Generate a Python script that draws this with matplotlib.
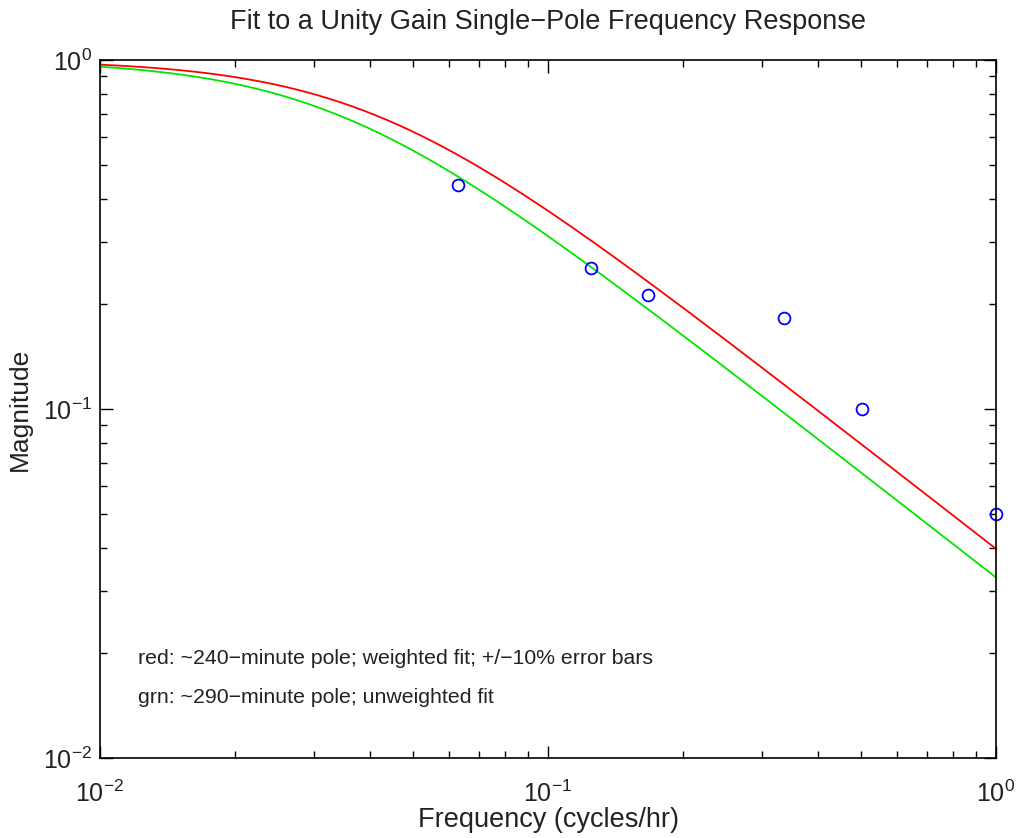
import numpy as np
import matplotlib
matplotlib.use("Agg")
import matplotlib.pyplot as plt
from matplotlib.ticker import LogLocator, NullFormatter

plt.rcParams['font.family'] = ['Liberation Sans', 'DejaVu Sans']
plt.rcParams['mathtext.fontset'] = 'custom'
plt.rcParams['mathtext.rm'] = 'Liberation Sans'
plt.rcParams['mathtext.it'] = 'Liberation Sans'

# Measured data (cycles/hr, magnitude)
freq_pts = [0.063, 0.125, 0.167, 0.336, 0.502, 1.0]
mag_pts = [0.438, 0.253, 0.212, 0.182, 0.100, 0.050]

# Single-pole fit time constants (minutes)
pole_red_min = 240
pole_grn_min = 290

title = "Fit to a Unity Gain Single\u2212Pole Frequency Response"
xlabel = "Frequency (cycles/hr)"
ylabel = "Magnitude"
note_red = "red: ~240\u2212minute pole; weighted fit; +/\u221210% error bars"
note_grn = "grn: ~290\u2212minute pole; unweighted fit"

f = np.logspace(-2, 0, 400)
def single_pole(f, tau_min):
    fc = 1.0 / (2 * np.pi * tau_min / 60.0)
    return 1.0 / np.sqrt(1.0 + (f / fc) ** 2)

fig = plt.figure(figsize=(10.22, 8.38), dpi=100)
ax = fig.add_axes([100/1022, 1-758/838, 896/1022, 698/838])

ax.plot(f, single_pole(f, pole_red_min), color=(1, 0, 0), lw=1.3)
ax.plot(f, single_pole(f, pole_grn_min), color=(0, 0.9, 0), lw=1.3)
ax.plot(freq_pts, mag_pts, linestyle='none', marker='o', markersize=8.5,
        markerfacecolor='none', markeredgecolor=(0, 0, 1), markeredgewidth=1.3,
        clip_on=False)

ax.set_xscale('log')
ax.set_yscale('log')
ax.set_xlim(1e-2, 1)
ax.set_ylim(1e-2, 1)

ax.xaxis.set_minor_locator(LogLocator(base=10, subs=np.arange(2, 10)))
ax.yaxis.set_minor_locator(LogLocator(base=10, subs=np.arange(2, 10)))
ax.xaxis.set_minor_formatter(NullFormatter())
ax.yaxis.set_minor_formatter(NullFormatter())
ax.tick_params(which='both', direction='in', top=True, right=True, labelsize=18,
               labelcolor='#222222')
ax.tick_params(which='major', length=9, width=1)
ax.tick_params(which='minor', length=5, width=1)
ax.tick_params(axis='x', pad=16)
ax.tick_params(axis='y', pad=6)
for s in ax.spines.values():
    s.set_linewidth(1.2)

ax.set_title(title, fontsize=19.5, pad=22, color='#222222')
ax.set_xlabel(xlabel, fontsize=19.5, labelpad=0, color='#222222')
ax.set_ylabel(ylabel, fontsize=19, labelpad=8, color='#222222')

ax.text(0.042, 0.143, note_red, transform=ax.transAxes, fontsize=15.3,
        va='center', ha='left', color='#222222')
ax.text(0.042, 0.087, note_grn, transform=ax.transAxes, fontsize=15.3,
        va='center', ha='left', color='#222222')

fig.savefig("out.png", dpi=100)
